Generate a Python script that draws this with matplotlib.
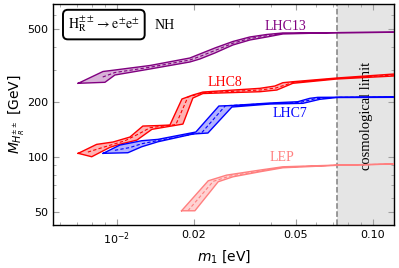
import matplotlib
matplotlib.use('Agg')
import matplotlib.pyplot as plt
import numpy as np

# lightest neutrino mass m1 [eV] vs doubly charged Higgs mass bound [GeV]
# each band: upper edge, lower edge, central (dashed) line

lhc13_up_m = [0.00706, 0.00882, 0.00982, 0.01346, 0.01928, 0.0211, 0.02415, 0.02839, 0.03308, 0.03855, 0.0445, 0.0723, 0.121]
lhc13_up_M = [252.8, 293.2, 298.8, 316.2, 347.5, 365.5, 394.1, 427.7, 452.6, 467.1, 476.1, 477.9, 480.3]
lhc13_lo_m = [0.00706, 0.00898, 0.00982, 0.01346, 0.01928, 0.0211, 0.02415, 0.02839, 0.03308, 0.03855, 0.0445, 0.0723, 0.121]
lhc13_lo_M = [252.8, 256.0, 280.6, 302.6, 330.5, 343.2, 370.1, 409.3, 435.8, 452.6, 470.1, 477.9, 480.3]
lhc13_c_m = [0.0088, 0.00982, 0.01346, 0.01928, 0.0211, 0.02415, 0.02839, 0.03308, 0.03855, 0.0445]
lhc13_c_M = [273.6, 289.5, 309.3, 338.9, 354.2, 381.9, 418.4, 444.1, 459.8, 473.1]

lhc8_up_m = [0.00706, 0.00833, 0.00965, 0.01124, 0.01263, 0.01446, 0.01611, 0.01795, 0.01981, 0.02168, 0.03619, 0.04142, 0.0445, 0.0487, 0.0723, 0.121]
lhc8_up_M = [104.8, 117.3, 120.8, 128.6, 147.7, 148.6, 149.6, 207.5, 218.2, 226.5, 237.3, 244.3, 254.7, 257.9, 270.2, 284.1]
lhc8_lo_m = [0.00706, 0.00797, 0.00939, 0.01009, 0.01197, 0.0137, 0.01811, 0.01981, 0.02168, 0.03619, 0.04217, 0.0487, 0.0723, 0.121]
lhc8_lo_M = [104.8, 100.4, 113.0, 116.7, 123.8, 141.7, 151.4, 210.1, 222.3, 227.4, 232.3, 252.8, 266.8, 277.1]
lhc8_c_m = [0.0077, 0.00898, 0.01075, 0.0123, 0.01346, 0.0170, 0.01894, 0.02168, 0.03619, 0.04179, 0.0487, 0.0723, 0.121]
lhc8_c_M = [106.5, 113.8, 122.7, 134.9, 144.6, 150.5, 212.7, 224.4, 232.3, 238.3, 255.4, 268.5, 280.6]

lhc7_up_m = [0.00884, 0.01027, 0.01249, 0.01446, 0.02035, 0.02503, 0.02814, 0.0396, 0.05093, 0.05674, 0.06098, 0.0723, 0.121]
lhc7_up_M = [104.8, 116.3, 122.8, 124.9, 137.0, 190.0, 191.2, 197.3, 200.6, 209.3, 211.9, 212.2, 212.7]
lhc7_lo_m = [0.00884, 0.01104, 0.01249, 0.01446, 0.01981, 0.02268, 0.02814, 0.0396, 0.05328, 0.06209, 0.0723, 0.121]
lhc7_lo_M = [104.8, 105.6, 113.8, 121.2, 133.6, 135.3, 187.6, 194.8, 196.5, 206.7, 211.4, 211.9]
lhc7_c_m = [0.00982, 0.01124, 0.01249, 0.01446, 0.02148, 0.02653, 0.0396, 0.05186, 0.05935, 0.0723, 0.121]
lhc7_c_M = [108.9, 112.7, 118.2, 123.1, 136.1, 190.7, 196.1, 198.6, 208.0, 211.9, 212.3]

lep_up_m = [0.01789, 0.02274, 0.02683, 0.03619, 0.0445, 0.0723, 0.121]
lep_up_M = [50.9, 74.2, 79.7, 84.9, 88.5, 90.4, 91.6]
lep_lo_m = [0.01789, 0.02017, 0.02487, 0.02839, 0.03619, 0.0445, 0.0723, 0.121]
lep_lo_M = [50.9, 50.9, 73.3, 78.0, 83.1, 87.4, 90.1, 91.6]
lep_c_m = [0.01894, 0.02378, 0.02763, 0.03619, 0.0445, 0.0723, 0.121]
lep_c_M = [50.9, 73.7, 78.7, 83.8, 88.0, 90.3, 91.6]

cosmo_limit = 0.0723
x_ticks = [0.01, 0.02, 0.05, 0.10]
x_ticklabels = [r'$10^{-2}$', '0.02', '0.05', '0.10']
y_ticks = [50, 100, 200, 500]
y_ticklabels = ['50', '100', '200', '500']


def draw_band(ax, up_m, up_M, lo_m, lo_M, c_m, c_M, color, alpha):
    """Banda rellena con borde y linea central discontinua."""
    xs = np.concatenate([up_m, lo_m[::-1]])
    ys = np.concatenate([up_M, lo_M[::-1]])
    ax.fill(xs, ys, facecolor=color, alpha=alpha, edgecolor='none', zorder=3)
    ax.plot(xs, ys, color=color, lw=1.0, zorder=4)
    ax.plot(c_m, c_M, color=color, lw=0.8, ls=(0, (3, 2)), zorder=4)


fig = plt.figure(figsize=(3.99, 2.68), dpi=100)
ax = fig.add_axes([0.134, 0.160, 0.853, 0.825])
ax.set_xscale('log')
ax.set_yscale('log')
ax.set_xlim(0.00565, 0.1208)
ax.set_ylim(42.5, 685)

ax.axvspan(cosmo_limit, 0.1208, color='#e5e5e5', zorder=0, lw=0)
ax.axvline(cosmo_limit, color='#808080', ls='--', lw=1.1, zorder=1)

draw_band(ax, lhc13_up_m, lhc13_up_M, lhc13_lo_m, lhc13_lo_M, lhc13_c_m, lhc13_c_M, '#800080', 0.3)
draw_band(ax, lhc8_up_m, lhc8_up_M, lhc8_lo_m, lhc8_lo_M, lhc8_c_m, lhc8_c_M, '#ff0000', 0.3)
draw_band(ax, lhc7_up_m, lhc7_up_M, lhc7_lo_m, lhc7_lo_M, lhc7_c_m, lhc7_c_M, '#0000ff', 0.3)
draw_band(ax, lep_up_m, lep_up_M, lep_lo_m, lep_lo_M, lep_c_m, lep_c_M, '#ff7f7f', 0.35)

serif = 'Liberation Serif'
ax.text(0.0457, 515, 'LHC13', color='#800080', fontsize=10, family=serif, ha='center', va='center')
ax.text(0.0264, 254, 'LHC8', color='#ff0000', fontsize=10, family=serif, ha='center', va='center')
ax.text(0.0474, 172, 'LHC7', color='#0000ff', fontsize=10, family=serif, ha='center', va='center')
ax.text(0.0441, 99, 'LEP', color='#ff7f7f', fontsize=10, family=serif, ha='center', va='center')
ax.text(0.0947, 168, 'cosmological limit', rotation=90, fontsize=10.5, family=serif,
        ha='center', va='center')

ax.text(0.148, 0.907, r'$\mathrm{H}_\mathrm{R}^{\pm\pm}\rightarrow \mathrm{e}^{\pm}\mathrm{e}^{\pm}$',
        transform=ax.transAxes, fontsize=10, math_fontfamily='stix', ha='center', va='center',
        bbox=dict(boxstyle='round,pad=0.35', fc='white', ec='black', lw=1.4), zorder=6)
ax.text(0.327, 0.905, 'NH', transform=ax.transAxes, fontsize=10, family=serif,
        ha='center', va='center')

ax.set_xticks(x_ticks)
ax.set_xticklabels(x_ticklabels)
ax.set_yticks(y_ticks)
ax.set_yticklabels(y_ticklabels)
ax.tick_params(which='both', direction='in', top=True, right=True, color='#a0a0a0', labelsize=8)
ax.tick_params(which='major', length=4)
ax.tick_params(which='minor', length=2)
ax.xaxis.set_minor_formatter(matplotlib.ticker.NullFormatter())
ax.yaxis.set_minor_formatter(matplotlib.ticker.NullFormatter())
for s in ax.spines.values():
    s.set_linewidth(1.0)

ax.set_xlabel(r'$m_1$ [eV]', fontsize=10, labelpad=1)
ax.set_ylabel(r'$M_{H_R^{\pm\pm}}$ [GeV]', fontsize=10, labelpad=0)

plt.savefig('out.png', dpi=100)
plt.close()
